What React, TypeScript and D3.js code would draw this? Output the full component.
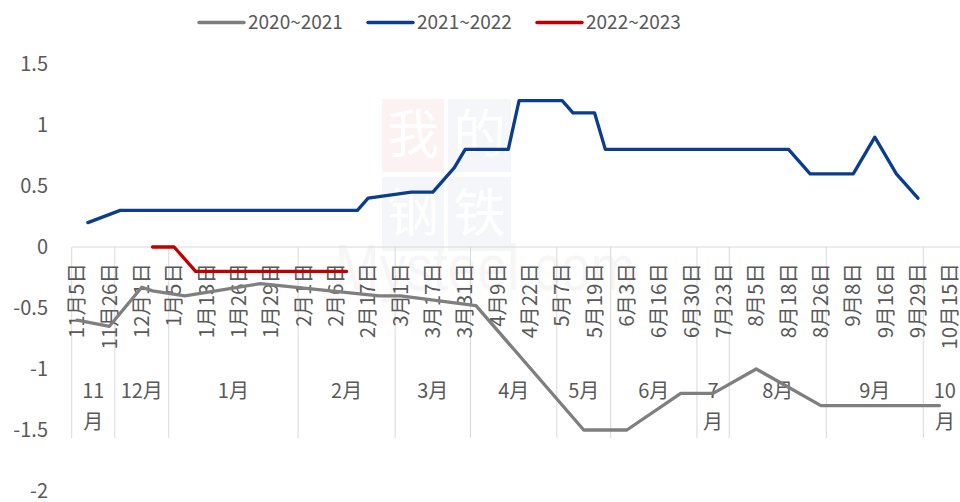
import { useEffect } from 'react';
import * as d3 from 'd3';

// category axis: 83 weekly slots, a date label on every 3rd one
const categoryCount = 83;
const tickLabels = [
  '11月5日', '11月26日', '12月1日', '1月5日', '1月13日', '1月26日', '1月29日',
  '2月1日', '2月6日', '2月17日', '3月1日', '3月17日', '3月31日', '4月9日',
  '4月22日', '5月7日', '5月19日', '6月3日', '6月16日', '6月30日', '7月23日',
  '8月5日', '8月18日', '8月26日', '9月8日', '9月16日', '9月29日', '10月15日',
];
const monthLabels = ['11月', '12月', '1月', '2月', '3月', '4月', '5月', '6月', '7月', '8月', '9月', '10月'];
const monthCounts = [4, 5, 12, 9, 7, 8, 5, 8, 3, 9, 9, 4];

// [category index, value]
const s2020: [number, number][] = [
  [0, -0.6], [3, -0.65], [6, -0.33], [7, -0.36], [10, -0.4], [17, -0.3],
  [28, -0.4], [30, -0.4], [37, -0.48], [47, -1.5], [51, -1.5], [56, -1.2],
  [59, -1.2], [63, -1.0], [69, -1.3], [80, -1.3],
];
const s2021: [number, number][] = [
  [1, 0.2], [4, 0.3], [26, 0.3], [27, 0.4], [31, 0.45], [33, 0.45], [35, 0.65],
  [36, 0.8], [40, 0.8], [41, 1.2], [45, 1.2], [46, 1.1], [48, 1.1], [49, 0.8],
  [66, 0.8], [68, 0.6], [72, 0.6], [74, 0.9], [76, 0.6], [78, 0.4],
];
const s2022: [number, number][] = [[7, 0], [9, 0], [11, -0.2], [25, -0.2]];

const yTicks = [1.5, 1, 0.5, 0, -0.5, -1, -1.5, -2];

const series = [
  { name: '2020~2021', data: s2020, color: '#7f7f7f' },
  { name: '2021~2022', data: s2021, color: '#0b3d8e' },
  { name: '2022~2023', data: s2022, color: '#c00000' },
];

const FONT = '"Noto Sans CJK SC", "Noto Sans", sans-serif';
const TEXT = '#595959';

export default function App() {
  useEffect(() => {
    document.body.style.margin = '0';
  }, []);

  const width = 960;
  const height = 502;
  const step = 10.78;
  const x0 = 71.7;

  const x = d3.scaleLinear().domain([0, categoryCount]).range([x0, x0 + categoryCount * step]);
  const y = d3.scaleLinear().domain([-2, 1.5]).range([491, 64]);
  const cx = (i: number) => x(i + 0.5);

  const line = d3.line<[number, number]>()
    .x(d => cx(d[0]))
    .y(d => y(d[1]));

  // month group boundaries
  const bounds: number[] = [0];
  monthCounts.forEach(c => bounds.push(bounds[bounds.length - 1] + c));

  const axisY = y(0);
  const groupBottom = 438;

  return (
    <svg width={width} height={height} style={{ display: 'block', fontFamily: FONT }}>
      <rect width={width} height={height} fill="#fff" />

      {/* watermark */}
      <g>
        <rect x={382} y={99} width={62} height={73} fill="#fdf2f2" />
        <rect x={448} y={99} width={63} height={73} fill="#f4f6f9" />
        <rect x={382} y={177} width={62} height={74} fill="#f4f6f9" />
        <rect x={448} y={177} width={63} height={74} fill="#f4f6f9" />
        {['我', '的', '钢', '铁'].map((t, i) => (
          <text key={t} x={i % 2 === 0 ? 413 : 479.5} y={i < 2 ? 135 : 214} dy="0.35em"
            textAnchor="middle" fontSize={52} fill="#ffffff">{t}</text>
        ))}
        <text x={335} y={290} fontSize={64} textLength={300} lengthAdjust="spacingAndGlyphs"
          fill="#f6f6f6" fontFamily='"Liberation Sans", Arial, sans-serif'>Mysteel.com</text>
      </g>

      {/* y axis labels */}
      {yTicks.map(v => (
        <text key={v} x={48} y={y(v)} dy="0.35em" textAnchor="end" fontSize={20} fill={TEXT}>{String(v)}</text>
      ))}

      {/* category axis */}
      <line x1={x0} x2={width} y1={axisY} y2={axisY} stroke="#d9d9d9" strokeWidth={1} />
      {bounds.map(b => (
        <line key={b} x1={x(b)} x2={x(b)} y1={axisY} y2={groupBottom} stroke="#d9d9d9" strokeWidth={1} />
      ))}
      {tickLabels.map((t, k) => (
        <text key={t} transform={`translate(${cx(k * 3)},263) rotate(-90)`} textAnchor="end"
          dy="0.35em" fontSize={20.5} fill={TEXT}>{t}</text>
      ))}
      {monthLabels.map((m, k) => {
        const mid = (x(bounds[k]) + x(bounds[k + 1])) / 2;
        const w = x(bounds[k + 1]) - x(bounds[k]);
        if (w < 45) {
          const num = m.replace('月', '');
          return (
            <g key={m}>
              <text x={mid} y={391} dy="0.35em" textAnchor="middle" fontSize={20} fill={TEXT}>{num}</text>
              <text x={mid} y={422} dy="0.35em" textAnchor="middle" fontSize={20} fill={TEXT}>月</text>
            </g>
          );
        }
        return (
          <text key={m} x={mid} y={391} dy="0.35em" textAnchor="middle" fontSize={20} fill={TEXT}>{m}</text>
        );
      })}

      {/* series */}
      {series.map(s => (
        <path key={s.name} d={line(s.data) ?? ''} fill="none" stroke={s.color} strokeWidth={3.3}
          strokeLinejoin="round" strokeLinecap="round" />
      ))}

      {/* legend */}
      {series.map((s, k) => {
        const lx = 199 + k * 169;
        return (
          <g key={s.name}>
            <line x1={lx} x2={lx + 45} y1={22.5} y2={22.5} stroke={s.color} strokeWidth={3.5} strokeLinecap="round" />
            <text x={lx + 49} y={22.5} dy="0.35em" fontSize={19} fill={TEXT}>{s.name}</text>
          </g>
        );
      })}
    </svg>
  );
}
